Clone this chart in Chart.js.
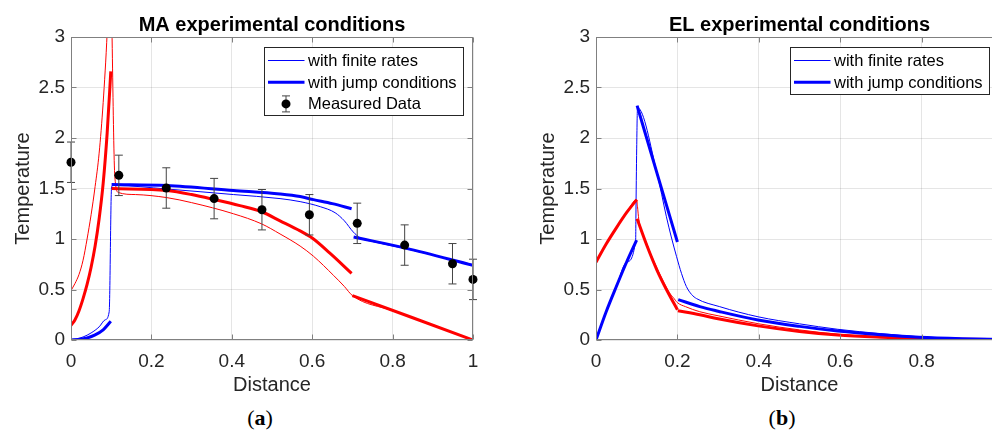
<!DOCTYPE html>
<html>
<head>
<meta charset="utf-8">
<script src="https://cdn.jsdelivr.net/npm/chart.js@4.4.1/dist/chart.umd.min.js"></script>
<style>
  html, body { margin: 0; padding: 0; background: #fff; width: 992px; height: 434px; overflow: hidden; position: relative; }
  canvas { position: absolute; top: 0; }
  #chart-ma { left: 0; }
  #chart-el { left: 520px; }
  .tag { position: absolute; top: 405px; font: 22px "Liberation Serif", "Times New Roman", serif; color: #000; transform: translateX(-50%); }
</style>
</head>
<body>
<canvas id="chart-ma" width="500" height="400"></canvas>
<canvas id="chart-el" width="500" height="400"></canvas>
<div class="tag" style="left:260px">(<b>a</b>)</div>
<div class="tag" style="left:782px">(<b>b</b>)</div>
<script>
// ---- ticks ----
const xTicks = [0, 0.2, 0.4, 0.6, 0.8, 1];
const xTickLabels = ["0", "0.2", "0.4", "0.6", "0.8", "1"];
const elXTicks = [0, 0.2, 0.4, 0.6, 0.8];
const elXTickLabels = ["0", "0.2", "0.4", "0.6", "0.8"];
const yTicks = [0, 0.5, 1, 1.5, 2, 2.5, 3];
const yTickLabels = ["0", "0.5", "1", "1.5", "2", "2.5", "3"];

// ---- (a) MA experimental conditions ----
const maDist = [0, 0.119, 0.237, 0.356, 0.475, 0.593, 0.712, 0.83, 0.949, 1.0];
const maTemp = [1.76, 1.63, 1.505, 1.40, 1.29, 1.24, 1.155, 0.94, 0.755, 0.60];
const maErr = [0.2, 0.2, 0.2, 0.2, 0.2, 0.2, 0.2, 0.2, 0.2, 0.2];

const maFiniteBlueX = [0, 0.03, 0.05, 0.07, 0.085, 0.095, 0.101, 0.11, 0.238, 0.404, 0.52, 0.57, 0.62, 0.657, 0.68, 0.702, 0.72, 0.75, 0.832, 1.0];
const maFiniteBlueY = [0, 0.03, 0.07, 0.13, 0.2, 0.28, 1.52, 1.53, 1.495, 1.44, 1.40, 1.37, 1.32, 1.26, 1.18, 1.07, 1.01, 0.975, 0.905, 0.745];

const maJumpBlueX = [0, 0.02, 0.04, 0.06, 0.08, 0.099, 0.1, 0.101, 0.238, 0.404, 0.52, 0.57, 0.603, 0.65, 0.698, 0.7, 0.703, 0.832, 1.0];
const maJumpBlueY = [0, 0.005, 0.02, 0.05, 0.1, 0.185, null, 1.54, 1.53, 1.48, 1.445, 1.42, 1.39, 1.35, 1.30, null, 1.02, 0.91, 0.74];

const maFiniteRedX = [0, 0.01, 0.02, 0.03, 0.04, 0.05, 0.06, 0.07, 0.08, 0.09, 0.097, 0.109, 0.118, 0.16, 0.238, 0.3, 0.404, 0.474, 0.52, 0.57, 0.603, 0.653, 0.68, 0.7, 0.8, 0.9, 1.0];
const maFiniteRedY = [0.49, 0.56, 0.65, 0.79, 1.0, 1.24, 1.52, 1.85, 2.35, 3.05, 3.8, 1.62, 1.46, 1.44, 1.41, 1.36, 1.25, 1.15, 1.05, 0.93, 0.83, 0.64, 0.53, 0.44, 0.29, 0.145, 0.0];

const maJumpRedX = [0, 0.01, 0.02, 0.03, 0.04, 0.05, 0.06, 0.07, 0.08, 0.09, 0.099, 0.1, 0.101, 0.238, 0.3, 0.357, 0.42, 0.474, 0.52, 0.57, 0.6, 0.644, 0.698, 0.699, 0.7, 1.0];
const maJumpRedY = [0.145, 0.2, 0.29, 0.41, 0.55, 0.72, 0.93, 1.2, 1.55, 2.05, 2.66, null, 1.50, 1.48, 1.44, 1.39, 1.33, 1.27, 1.18, 1.08, 1.01, 0.86, 0.66, null, 0.44, 0.0];

// ---- (b) EL experimental conditions ----
const elFiniteBlueX = [0, 0.025, 0.05, 0.075, 0.0975, 0.098, 0.1, 0.102, 0.15, 0.173, 0.185, 0.198, 0.21, 0.222, 0.235, 0.247, 0.304, 0.398, 0.5, 0.594, 0.7, 0.794, 0.9, 1.0];
const elFiniteBlueY = [0, 0.28, 0.53, 0.77, 0.99, 1.2, 1.9, 2.3, 1.65, 1.22, 1.02, 0.825, 0.66, 0.53, 0.45, 0.41, 0.33, 0.23, 0.16, 0.106, 0.063, 0.032, 0.015, 0.006];

const elJumpBlueX = [0, 0.025, 0.05, 0.075, 0.0998, 0.1, 0.101, 0.15, 0.2, 0.201, 0.202, 0.255, 0.3, 0.398, 0.5, 0.594, 0.7, 0.794, 0.9, 1.0];
const elJumpBlueY = [0, 0.28, 0.53, 0.77, 0.99, null, 2.32, 1.65, 0.97, null, 0.40, 0.33, 0.285, 0.198, 0.135, 0.089, 0.052, 0.027, 0.012, 0.004];

const elFiniteRedX = [0, 0.025, 0.05, 0.075, 0.1, 0.102, 0.105, 0.125, 0.15, 0.18, 0.19, 0.2, 0.22, 0.255, 0.3, 0.4, 0.5, 0.6, 0.7, 0.8, 0.9, 1.0];
const elFiniteRedY = [0.77, 0.95, 1.11, 1.26, 1.39, 1.32, 1.2, 0.95, 0.71, 0.47, 0.42, 0.37, 0.33, 0.28, 0.24, 0.16, 0.1, 0.055, 0.03, 0.016, 0.008, 0.003];

const elJumpRedX = [0, 0.025, 0.05, 0.075, 0.1, 0.1005, 0.101, 0.125, 0.15, 0.175, 0.2, 0.2005, 0.201, 0.255, 0.3, 0.398, 0.5, 0.594, 0.7, 0.794, 0.9, 1.0];
const elJumpRedY = [0.77, 0.95, 1.11, 1.26, 1.39, null, 1.20, 0.935, 0.69, 0.485, 0.30, null, 0.29, 0.25, 0.21, 0.14, 0.085, 0.05, 0.028, 0.015, 0.007, 0.003];

const maLegendLabels = ["with finite rates", "with jump conditions", "Measured Data"];
const elLegendLabels = ["with finite rates", "with jump conditions"];

const FONT = '"Liberation Sans", Arial, Helvetica, sans-serif';
Chart.defaults.font.family = FONT;

const BLUE = "#0000ff";
const RED = "#ff0000";
const AXIS = "#808080";
const BAR = "#444444";

function pts(xs, ys) {
  return xs.map((x, i) => ({ x: x, y: ys[i] }));
}

function curve(xs, ys, color, width, order) {
  return {
    data: pts(xs, ys),
    showLine: true,
    borderColor: color,
    backgroundColor: color,
    borderWidth: width,
    pointRadius: 0,
    cubicInterpolationMode: "monotone",
    spanGaps: false,
    order: order
  };
}

// box around the axes with inward ticks (MATLAB "box on")
const framePlugin = {
  id: "frame",
  afterDatasetsDraw(chart) {
    const { ctx, chartArea: a, scales } = chart;
    const L = Math.round(a.left) + 0.5, R = Math.round(a.right) - 0.5;
    const T = Math.round(a.top) + 0.5, B = Math.round(a.bottom) - 0.5;
    ctx.save();
    ctx.strokeStyle = AXIS;
    ctx.lineWidth = 1;
    ctx.strokeRect(L, T, R - L, B - T);
    ctx.beginPath();
    scales.x.ticks.forEach(t => {
      const px = Math.round(scales.x.getPixelForValue(t.value)) + 0.5;
      ctx.moveTo(px, B); ctx.lineTo(px, B - 5);
      ctx.moveTo(px, T); ctx.lineTo(px, T + 5);
    });
    scales.y.ticks.forEach(t => {
      const py = Math.round(scales.y.getPixelForValue(t.value)) + 0.5;
      ctx.moveTo(L, py); ctx.lineTo(L + 5, py);
      ctx.moveTo(R, py); ctx.lineTo(R - 5, py);
    });
    ctx.stroke();
    ctx.restore();
  }
};

// legend box drawn inside the top-right of the axes
const legendPlugin = {
  id: "boxLegend",
  afterDraw(chart, args, opts) {
    const { ctx, chartArea: a } = chart;
    const labels = opts.labels;
    ctx.save();
    ctx.font = "16.5px " + FONT;
    const textW = Math.max(...labels.map(l => ctx.measureText(l).width));
    const w = Math.round(48 + textW + 2);
    const h = Math.round(13 + 21.7 * (labels.length - 1) + 12);
    const x = Math.round(a.right - opts.rightGap - w) + 0.5;
    const y = Math.round(a.top + 10) + 0.5;
    ctx.fillStyle = "#fff";
    ctx.fillRect(x, y, w, h);
    ctx.strokeStyle = "#262626";
    ctx.lineWidth = 1;
    ctx.strokeRect(x, y, w, h);
    labels.forEach((label, i) => {
      const cy = y + 13 + 21.7 * i;
      const kind = opts.kinds[i];
      if (kind === "marker") {
        const cx = x + 21.5;
        ctx.strokeStyle = BAR;
        ctx.lineWidth = 1;
        ctx.beginPath();
        ctx.moveTo(cx, cy - 8); ctx.lineTo(cx, cy + 8);
        ctx.moveTo(cx - 4, cy - 8); ctx.lineTo(cx + 4, cy - 8);
        ctx.moveTo(cx - 4, cy + 8); ctx.lineTo(cx + 4, cy + 8);
        ctx.stroke();
        ctx.fillStyle = "#000";
        ctx.beginPath();
        ctx.arc(cx, cy, 4.5, 0, Math.PI * 2);
        ctx.fill();
      } else {
        ctx.strokeStyle = BLUE;
        ctx.lineWidth = kind === "thick" ? 3 : 1;
        ctx.beginPath();
        ctx.moveTo(x + 3.5, cy); ctx.lineTo(x + 40, cy);
        ctx.stroke();
      }
      ctx.fillStyle = "#000";
      ctx.textBaseline = "middle";
      ctx.textAlign = "left";
      ctx.fillText(label, x + 43.5, cy + 1);
    });
    ctx.restore();
  }
};

function xScale(ticks, labels, max) {
  return {
    type: "linear",
    min: 0,
    max: max,
    afterBuildTicks: s => { s.ticks = ticks.map(v => ({ value: v })); },
    afterFit: s => { s.height = 60; },
    grid: { color: "rgba(0,0,0,0.1)", drawTicks: false },
    border: { display: false },
    ticks: { padding: 10, color: "#262626", font: { size: 19 }, maxRotation: 0, autoSkip: false, callback: (v, i) => labels[i] },
    title: { display: true, text: "Distance", color: "#262626", font: { size: 20 }, padding: { top: 0, bottom: 3 } }
  };
}

function yScale(width, titlePad) {
  return {
    type: "linear",
    min: 0,
    max: 3,
    afterBuildTicks: s => { s.ticks = yTicks.map(v => ({ value: v })); },
    afterFit: s => { s.width = width; },
    grid: { color: "rgba(0,0,0,0.1)", drawTicks: false },
    border: { display: false },
    ticks: { padding: 6, color: "#262626", font: { size: 19 }, autoSkip: false, callback: (v, i) => yTickLabels[i] },
    title: { display: true, text: "Temperature", color: "#262626", font: { size: 20 }, padding: { top: titlePad, bottom: 0 } }
  };
}

function baseOptions(title, xs, padRight, legendOpts) {
  return {
    responsive: false,
    animation: false,
    events: [],
    layout: { padding: { left: 0, right: padRight, top: 0, bottom: 0 } },
    plugins: {
      legend: { display: false },
      tooltip: { enabled: false },
      title: {
        display: true,
        text: title,
        fullSize: false,
        color: "#000",
        font: { size: 20, weight: "bold" },
        padding: { top: 13, bottom: 0 }
      },
      boxLegend: legendOpts
    },
    scales: xs
  };
}

// error bars: vertical segments separated by gaps, plus caps
const maErrLine = [];
const maErrCaps = [];
maDist.forEach((x, i) => {
  const lo = maTemp[i] - maErr[i];
  const hi = maTemp[i] + maErr[i];
  maErrLine.push({ x: x, y: lo }, { x: x, y: hi }, { x: x, y: null });
  maErrCaps.push({ x: x, y: lo }, { x: x, y: hi });
});

new Chart(document.getElementById("chart-ma"), {
  type: "scatter",
  data: {
    datasets: [
      { data: pts(maDist, maTemp), pointRadius: 4.5, pointBackgroundColor: "#000", pointBorderColor: "#000", pointBorderWidth: 0, showLine: false, clip: false, order: 0 },
      { data: maErrCaps, pointStyle: "line", pointRadius: 4, pointBorderColor: BAR, pointBorderWidth: 1, showLine: false, clip: false, order: 1 },
      { data: maErrLine, showLine: true, borderColor: BAR, borderWidth: 1, pointRadius: 0, spanGaps: false, clip: false, order: 1 },
      curve(maJumpBlueX, maJumpBlueY, BLUE, 3, 2),
      curve(maJumpRedX, maJumpRedY, RED, 3, 2),
      curve(maFiniteBlueX, maFiniteBlueY, BLUE, 1, 3),
      curve(maFiniteRedX, maFiniteRedY, RED, 1, 3)
    ]
  },
  options: baseOptions("MA experimental conditions",
    { x: xScale(xTicks, xTickLabels, 1), y: yScale(71, 11) },
    27,
    { labels: maLegendLabels, kinds: ["thin", "thick", "marker"], rightGap: 10 }),
  plugins: [framePlugin, legendPlugin]
});

new Chart(document.getElementById("chart-el"), {
  type: "scatter",
  data: {
    datasets: [
      curve(elJumpBlueX, elJumpBlueY, BLUE, 3, 2),
      curve(elJumpRedX, elJumpRedY, RED, 3, 2),
      curve(elFiniteBlueX, elFiniteBlueY, BLUE, 1, 3),
      curve(elFiniteRedX, elFiniteRedY, RED, 1, 3)
    ]
  },
  options: baseOptions("EL experimental conditions",
    { x: xScale(elXTicks, elXTickLabels, 1), y: yScale(76, 16) },
    17,
    { labels: elLegendLabels, kinds: ["thin", "thick"], rightGap: 14 }),
  plugins: [framePlugin, legendPlugin]
});
</script>
</body>
</html>
